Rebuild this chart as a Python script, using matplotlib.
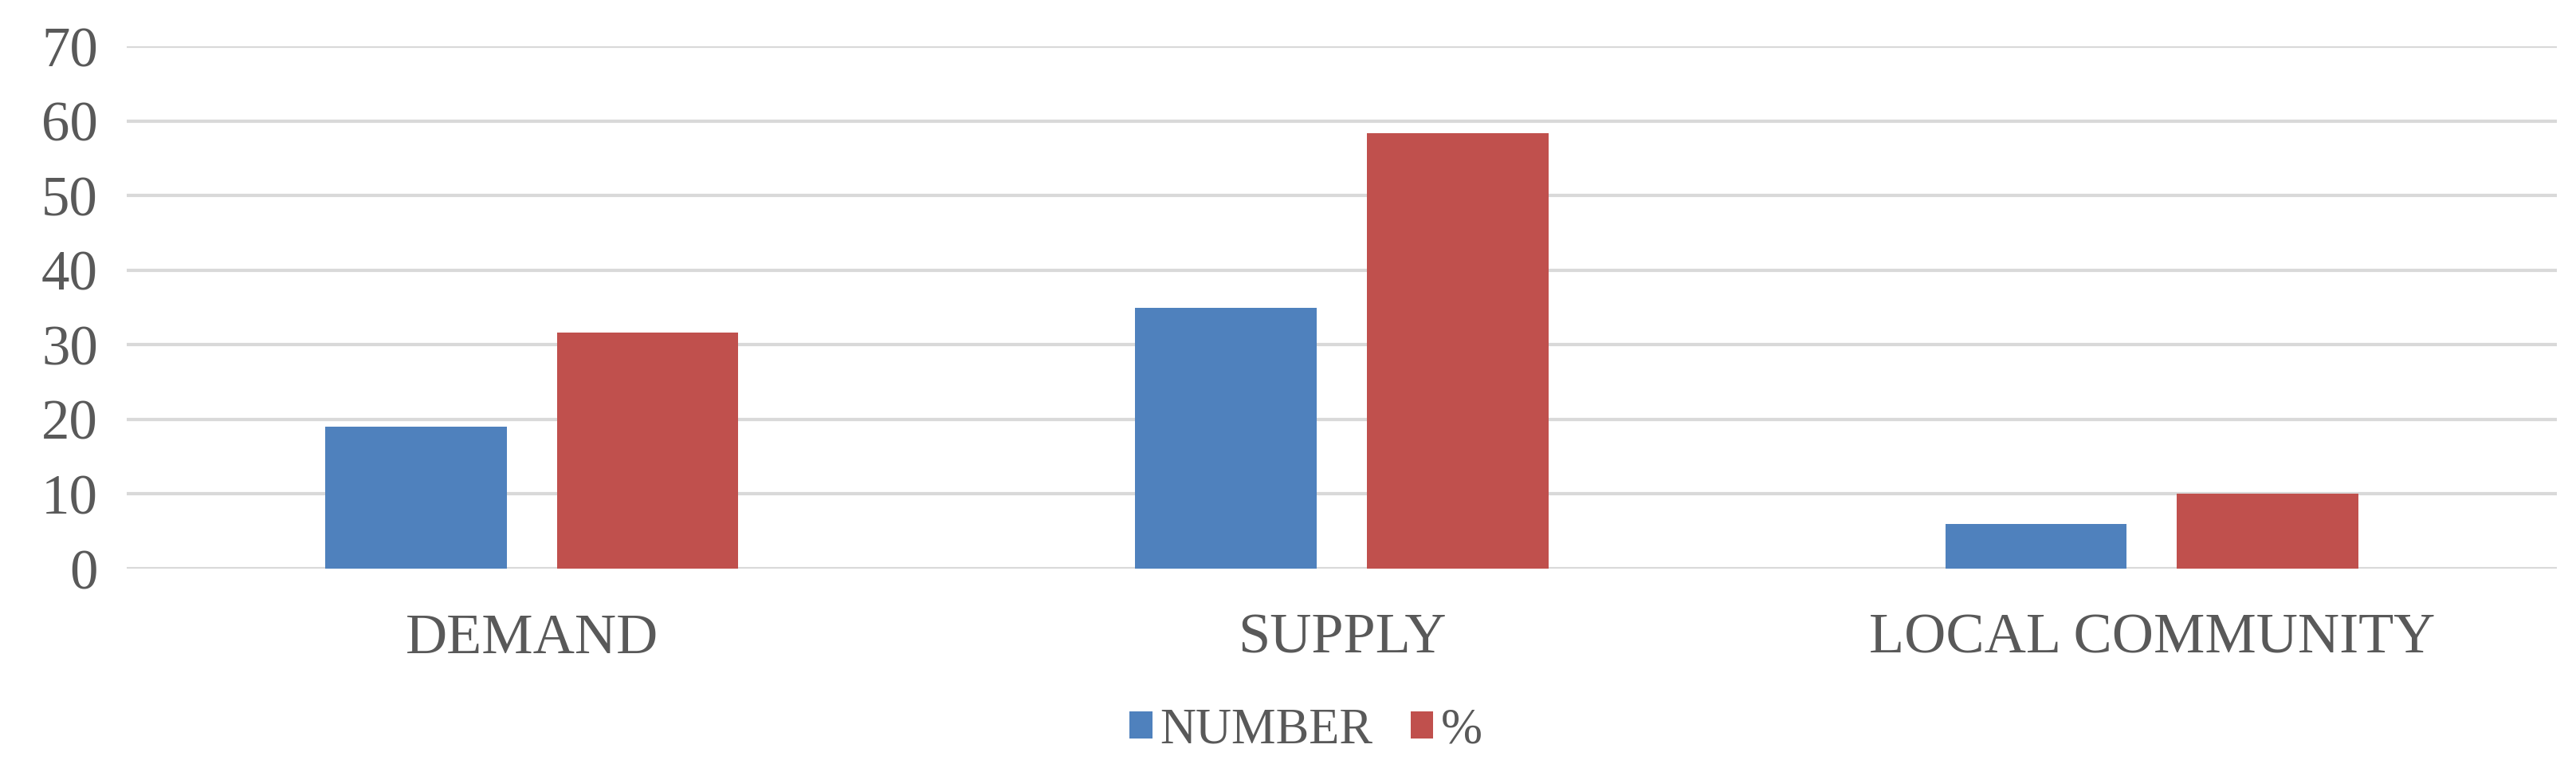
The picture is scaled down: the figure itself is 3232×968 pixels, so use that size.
import matplotlib
matplotlib.use("Agg")
import matplotlib.pyplot as plt
import numpy as np

categories = ["DEMAND", "SUPPLY", "LOCAL COMMUNITY"]
number = [19, 35, 6]
percent = [31.67, 58.33, 10]
series_names = ["NUMBER", "%"]
y_ticks = [0, 10, 20, 30, 40, 50, 60, 70]

plt.rcParams['font.family'] = ['Liberation Serif', 'DejaVu Serif']
txt = '#595959'

fig = plt.figure(figsize=(32.32, 9.68), dpi=100)
ax = fig.add_axes([0.0492, 0.2634, 0.9434, 0.6766])

x = np.arange(len(categories))
w = 0.224
off = 0.143
ax.bar(x - off, number, w, color='#4f81bd', label=series_names[0], zorder=3)
ax.bar(x + off, percent, w, color='#c0504d', label=series_names[1], zorder=3)

ax.set_xlim(-0.5, len(categories) - 0.5)
ax.set_ylim(0, 70)
ax.set_yticks(y_ticks)
ax.set_yticklabels([str(t) for t in y_ticks], fontsize=51, color=txt)
ax.set_xticks(x)
ax.set_xticklabels(categories, fontsize=52, color=txt)
ax.tick_params(axis='y', length=0, pad=26)
ax.tick_params(axis='x', length=0, pad=40)
ax.grid(axis='y', color='#d9d9d9', linewidth=3, zorder=0)
for s in ax.spines.values():
    s.set_visible(False)

fig.legend(loc='center', bbox_to_anchor=(0.507, 0.053), ncol=2, frameon=False,
           fontsize=45, handlelength=0.46, handleheight=0.46, handletextpad=0.16,
           columnspacing=0.75, labelcolor=txt)

fig.savefig("out.png", dpi=100, facecolor='white')
